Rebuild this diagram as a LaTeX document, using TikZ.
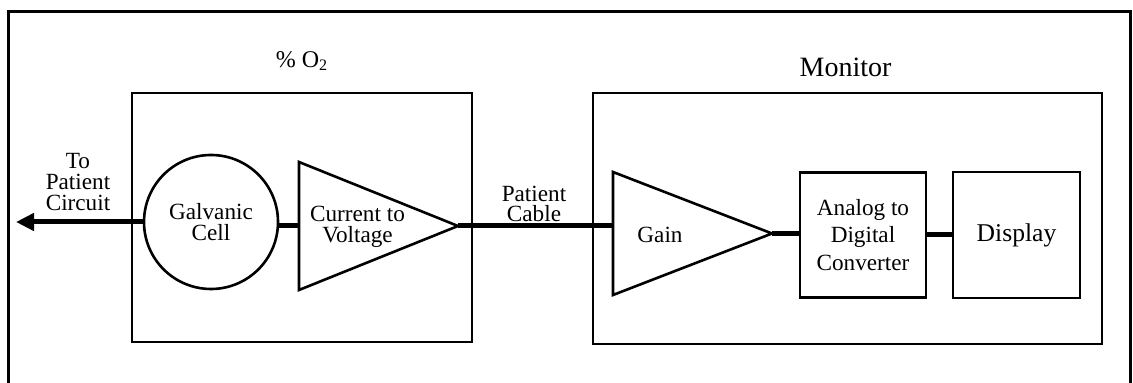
\documentclass[tikz,border=0pt]{standalone}
\usepackage{fontspec}
\setmainfont{Liberation Serif}
\usetikzlibrary{shapes.geometric,arrows.meta}
\begin{document}
\begin{tikzpicture}[x=0.5pt,y=-0.5pt,
	box/.style={draw,line width=1.3pt,inner sep=0pt,outer sep=0pt,align=center},
	amp/.style={draw,line width=1.3pt,isosceles triangle,isosceles triangle stretches,inner sep=0pt,outer sep=0pt},
	lead/.style={line width=2.5pt},
	txt/.style={align=center,font=\fontsize{11.6}{10.4}\selectfont}]
		\newcommand{\lw}{1.3pt}
		\useasboundingbox (0,0) rectangle (1133,383);
		
		% frame
		\draw[line width=\lw] (8.5,383) -- (8.5,11.5) -- (1130.5,11.5) -- (1130.5,383);
		
		% sensor and monitor housings
		\node[box, minimum width=170pt, minimum height=124.5pt] (sensor) at (302,217.5) {};
		\node[box, minimum width=254.5pt, minimum height=125.5pt] (monitor) at (847.5,218.5) {};
		\node[txt, font=\fontsize{12}{12}\selectfont] (sensortitle) at (302,61) {\% O\textsubscript{2}};
		\node[txt, font=\fontsize{14}{14}\selectfont] (monitortitle) at (845.5,67) {Monitor};
		
		% blocks
		\node[box, txt, circle, minimum size=67pt] (cell) at (211,222) {Galvanic\\Cell};
		\node[amp, anchor=lower side, minimum width=64pt, minimum height=79.5pt] (curvolt) at (299,226) {};
		\node[txt] (curvoltlabel) at (357.5,227) {Current to\\Voltage};
		\node[amp, anchor=lower side, minimum width=61.5pt, minimum height=79.5pt] (gain) at (613,233.5) {};
		\node[txt] (gainlabel) at (660,235) {Gain};
		\node[box, minimum width=63pt, minimum height=62.5pt, font=\fontsize{11.6}{13.75}\selectfont] (adc) at (863,235) {Analog to\\Digital\\Converter};
		\node[box, minimum width=63.5pt, minimum height=63pt, font=\fontsize{12.8}{14}\selectfont] (display) at (1016.5,235) {Display};
		
		% labels outside
		\node[txt] (circuitlabel) at (78,182) {To\\Patient\\Circuit};
		\node[txt] (cablelabel) at (534,204) {Patient\\Cable};
		\coordinate (patient) at (16,222);
		
		% leads
		\draw[lead, -{Triangle[length=9pt,width=8.5pt]}] (cell.west) -- (patient);
		\draw[lead] (curvolt.lower side -| cell.east) -- (curvolt.lower side);
		\draw[lead] (curvolt.apex) -- (curvolt.apex -| gain.lower side);
		\draw[lead] (gain.apex) -- (gain.apex -| adc.west);
		\draw[lead] (adc.east) -- (adc.east -| display.west);
\end{tikzpicture}
\end{document}
